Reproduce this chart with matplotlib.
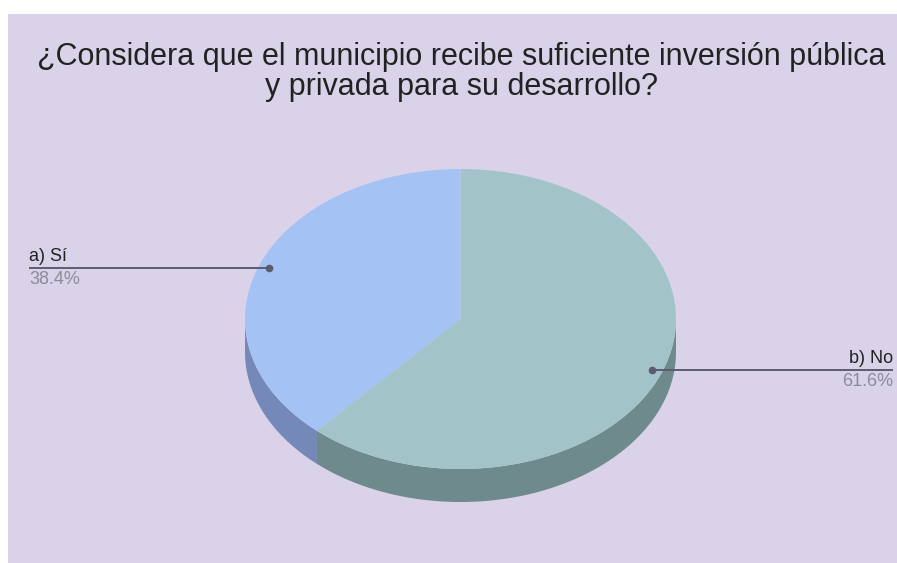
import numpy as np
import matplotlib
matplotlib.use("Agg")
import matplotlib.pyplot as plt
from matplotlib.patches import Rectangle, Polygon

# survey answers
labels = ["a) Sí", "b) No"]
values = [38.4, 61.6]
top_colors = ["#a4c2f4", "#a2c4c9"]
side_colors = ["#7589b8", "#6f8a8c"]
title = "¿Considera que el municipio recibe suficiente inversión pública\ny privada para su desarrollo?"

W, H = 897, 563
bg = "#d9d2e9"
depth = 0.22  # thickness of the disc in radius units

fig = plt.figure(figsize=(W / 100, H / 100), dpi=100, facecolor="white")
fig.patches.append(Rectangle((8 / W, 0), 1 - 8 / W, 1 - 14 / H,
                             transform=fig.transFigure, facecolor=bg,
                             edgecolor="none", zorder=-5))

fig.text(461 / W, 1 - 42 / H, title, ha="center", va="top", fontsize=22,
         family="Liberation Sans", color="#222222", linespacing=1.0)

# pie axes: x spans 245..676 px, y spans 169..502 px
ax = fig.add_axes([245 / W, 1 - 502 / H, 431 / W, 333 / H])
wedges, _ = ax.pie(values, colors=top_colors, startangle=90, counterclock=True,
                   wedgeprops=dict(linewidth=0), radius=1)
for w in wedges:
    w.set_zorder(3)
ax.set_aspect("auto")
ax.set_xlim(-1, 1)
ax.set_ylim(-1 - depth, 1)
ax.axis("off")

# side walls of the disc, only the front half is visible
total = sum(values)
start = 90.0
mids = []
for v, c in zip(values, side_colors):
    a0, a1 = start, start + 360 * v / total
    mids.append(np.radians((a0 + a1) / 2))
    for lo, hi in [(max(a0, 180), min(a1, 360)), (max(a0, 540), min(a1, 720))]:
        if lo >= hi:
            continue
        t = np.radians(np.linspace(lo, hi, 100))
        top = np.column_stack([np.cos(t), np.sin(t)])
        bot = top[::-1] - [0, depth]
        ax.add_patch(Polygon(np.vstack([top, bot]), closed=True,
                             facecolor=c, edgecolor="none", zorder=2))
    start = a1

# leader lines and labels
line_c = "#5c5c70"
to_x = lambda px: (px - 460.5) / 215.5
for lab, v, m in zip(labels, values, mids):
    x, y = 0.95 * np.cos(m), 0.95 * np.sin(m)
    left = x < 0
    xe = to_x(29) if left else to_x(893)
    ax.plot([x, xe], [y, y], color=line_c, lw=1.4, clip_on=False, zorder=5,
            solid_capstyle="butt")
    ax.plot([x], [y], "o", color=line_c, ms=4.5, clip_on=False, zorder=6)
    ha = "left" if left else "right"
    ax.annotate(lab, (xe, y), xytext=(0, 2), textcoords="offset points",
                ha=ha, va="bottom", fontsize=13, family="Liberation Sans",
                color="#222222", annotation_clip=False)
    ax.annotate(f"{v:.1f}%", (xe, y), xytext=(0, -2), textcoords="offset points",
                ha=ha, va="top", fontsize=13, family="Liberation Sans",
                color="#8c8c98", annotation_clip=False)

fig.savefig("out.png", dpi=100, facecolor=fig.get_facecolor())
